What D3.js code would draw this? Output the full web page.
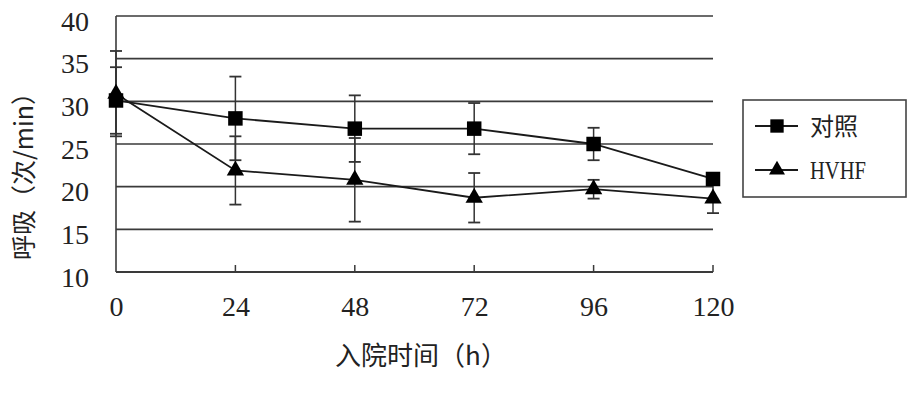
<!DOCTYPE html>
<html>
<head>
<meta charset="utf-8">
<script src="https://cdn.jsdelivr.net/npm/d3@7"></script>
<style>
  body { margin: 0; background: #fff; }
</style>
</head>
<body>
<div id="chart"></div>
<script>
// hours since admission
var hours = [0, 24, 48, 72, 96, 120];
var yTicks = [10, 15, 20, 25, 30, 35, 40];

// 对照 (control)
var control = [30.1, 28.0, 26.8, 26.8, 25.0, 20.9];
var controlErr = [3.9, 4.9, 3.9, 3.0, 1.9, 0.5];

// HVHF
var hvhf = [30.9, 21.9, 20.8, 18.7, 19.7, 18.6];
var hvhfErr = [5.0, 4.0, 4.9, 2.9, 1.1, 1.7];

var seriesNames = ["对照", "HVHF"];

var width = 921, height = 395;
// plot box (window.top is reserved, so use other names)
var plotL = 116, plotR = 713, plotT = 16, plotB = 272;

var svg = d3.select("#chart")
  .append("svg")
    .attr("width", width)
    .attr("height", height);

var x = d3.scaleLinear().domain([0, 120]).range([plotL, plotR]);
var y = d3.scaleLinear().domain([10, 40]).range([plotB, plotT]);

var ink = "#222";
var serif = "'Liberation Serif', 'DejaVu Serif', serif";
var cjk = "'Noto Sans CJK SC', sans-serif";

// grid lines
svg.append("g")
  .selectAll("line")
  .data(yTicks.filter(function (d) { return d > 10; }))
  .enter()
  .append("line")
    .attr("x1", plotL)
    .attr("x2", plotR)
    .attr("y1", function (d) { return y(d); })
    .attr("y2", function (d) { return y(d); })
    .style("stroke", "#3a3a3a")
    .style("stroke-width", 1.6);

// axis lines
svg.append("line")
  .attr("x1", plotL).attr("x2", plotL)
  .attr("y1", plotT).attr("y2", plotB)
  .style("stroke", "#3a3a3a").style("stroke-width", 1.6);
svg.append("line")
  .attr("x1", plotL).attr("x2", plotR)
  .attr("y1", plotB).attr("y2", plotB)
  .style("stroke", "#3a3a3a").style("stroke-width", 1.8);

// small inner ticks on the x axis
svg.append("g")
  .selectAll("line")
  .data(hours.filter(function (d) { return d > 0; }))
  .enter()
  .append("line")
    .attr("x1", function (d) { return x(d); })
    .attr("x2", function (d) { return x(d); })
    .attr("y1", plotB)
    .attr("y2", plotB - 7)
    .style("stroke", "#3a3a3a")
    .style("stroke-width", 1.5);

// Y axis labels
var yAxis = svg.append("g")
  .attr("transform", "translate(" + plotL + ",0)")
  .call(d3.axisLeft(y).tickValues(yTicks).tickSize(0).tickPadding(27));
yAxis.select(".domain").remove();
yAxis.selectAll("text")
  .attr("dy", "0.5em")
  .style("font-family", serif)
  .style("font-size", "28px")
  .style("fill", ink);

// X axis labels
var xAxis = svg.append("g")
  .attr("transform", "translate(0," + plotB + ")")
  .call(d3.axisBottom(x).tickValues(hours).tickSize(0).tickPadding(24));
xAxis.select(".domain").remove();
xAxis.selectAll("text")
  .style("font-family", serif)
  .style("font-size", "28px")
  .style("fill", ink);

// axis titles
svg.append("text")
  .attr("x", 421)
  .attr("y", 365)
  .attr("text-anchor", "middle")
  .style("font-family", cjk)
  .style("font-size", "26px")
  .style("fill", ink)
  .text("入院时间（h）");

svg.append("text")
  .attr("text-anchor", "middle")
  .attr("transform", "translate(33,170) rotate(-90)")
  .style("font-family", cjk)
  .style("font-size", "25px")
  .style("fill", ink)
  .text("呼吸（次/min）");

var series = [
  { name: seriesNames[0], values: control, err: controlErr, symbol: d3.symbolSquare, size: 210 },
  { name: seriesNames[1], values: hvhf, err: hvhfErr, symbol: d3.symbolTriangle, size: 130 }
];

// error bars
series.forEach(function (s) {
  var g = svg.append("g");
  var rows = hours.map(function (h, i) { return { h: h, v: s.values[i], e: s.err[i] }; });
  g.selectAll(".bar")
    .data(rows)
    .enter()
    .append("line")
      .attr("x1", function (d) { return x(d.h); })
      .attr("x2", function (d) { return x(d.h); })
      .attr("y1", function (d) { return y(d.v + d.e); })
      .attr("y2", function (d) { return y(d.v - d.e); })
      .style("stroke", "#333")
      .style("stroke-width", 1.5);
  [1, -1].forEach(function (sign) {
    g.selectAll(".cap" + sign)
      .data(rows)
      .enter()
      .append("line")
        .attr("x1", function (d) { return x(d.h) - 6; })
        .attr("x2", function (d) { return x(d.h) + 6; })
        .attr("y1", function (d) { return y(d.v + sign * d.e); })
        .attr("y2", function (d) { return y(d.v + sign * d.e); })
        .style("stroke", "#333")
        .style("stroke-width", 1.8);
  });
});

// lines
var line = d3.line()
  .x(function (d, i) { return x(hours[i]); })
  .y(function (d) { return y(d); });

series.forEach(function (s) {
  svg.append("path")
    .datum(s.values)
    .attr("d", line)
    .style("fill", "none")
    .style("stroke", "#1a1a1a")
    .style("stroke-width", 1.8);
});

// markers
series.forEach(function (s) {
  svg.append("g")
    .selectAll("path")
    .data(s.values)
    .enter()
    .append("path")
      .attr("d", d3.symbol().type(s.symbol).size(s.size))
      .attr("transform", function (d, i) { return "translate(" + x(hours[i]) + "," + y(d) + ")"; })
      .style("fill", "#000");
});

// legend
var legend = svg.append("g");
legend.append("rect")
  .attr("x", 743)
  .attr("y", 100)
  .attr("width", 163)
  .attr("height", 97)
  .style("fill", "#fff")
  .style("stroke", "#444")
  .style("stroke-width", 1.6);

var legendY = [126, 170];
series.forEach(function (s, i) {
  legend.append("line")
    .attr("x1", 755).attr("x2", 798)
    .attr("y1", legendY[i]).attr("y2", legendY[i])
    .style("stroke", "#1a1a1a")
    .style("stroke-width", 1.8);
  legend.append("path")
    .attr("d", d3.symbol().type(s.symbol).size(s.size * 0.85))
    .attr("transform", "translate(777," + legendY[i] + ")")
    .style("fill", "#000");
  var t = legend.append("text")
    .attr("x", 810)
    .attr("y", legendY[i] + 9)
    .style("fill", ink)
    .text(s.name);
  if (i === 0) {
    t.style("font-family", cjk).style("font-size", "24px");
  } else {
    t.style("font-family", serif).style("font-size", "25px")
      .attr("textLength", 56).attr("lengthAdjust", "spacingAndGlyphs");
  }
});
</script>
</body>
</html>
